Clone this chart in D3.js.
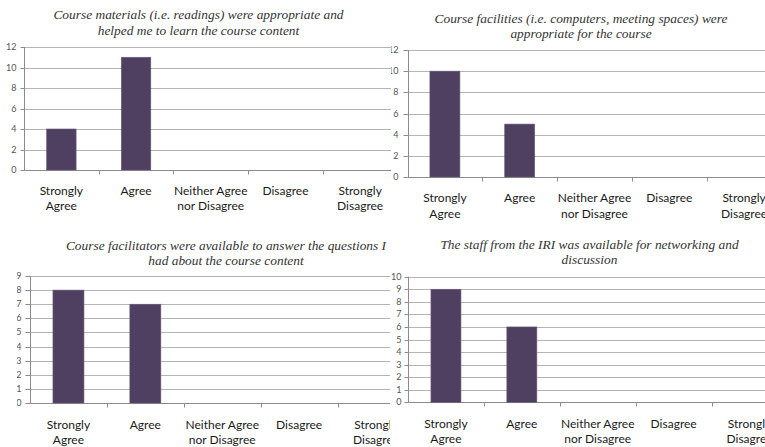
<!DOCTYPE html>
<html><head><meta charset="utf-8">
<script src="https://cdn.jsdelivr.net/npm/d3@7"></script>
<style>html,body{margin:0;padding:0;background:#fff;overflow:hidden}</style>
</head><body><svg id="c" width="765" height="447"></svg>
<script>
// ---- data ----
const categories = ["Strongly Agree","Agree","Neither Agree nor Disagree","Disagree","Strongly Disagree"];
const categoryLines = [["Strongly","Agree"],["Agree"],["Neither Agree","nor Disagree"],["Disagree"],["Strongly","Disagree"]];
const titleMaterials = ["Course materials (i.e. readings) were appropriate and","helped me to learn the course content"];
const titleFacilities = ["Course facilities (i.e. computers, meeting spaces) were","appropriate for the course"];
const titleFacilitators = ["Course facilitators were available to answer the questions I","had about the course content"];
const titleStaff = ["The staff from the IRI was available for networking and","discussion"];
const valuesMaterials = [4, 11, 0, 0, 0];
const valuesFacilities = [10, 5, 0, 0, 0];
const valuesFacilitators = [8, 7, 0, 0, 0];
const valuesStaff = [9, 6, 0, 0, 0];
const ticksMaterials = [0, 2, 4, 6, 8, 10, 12];
const ticksFacilities = [0, 2, 4, 6, 8, 10, 12];
const ticksFacilitators = [0, 1, 2, 3, 4, 5, 6, 7, 8, 9];
const ticksStaff = [0, 1, 2, 3, 4, 5, 6, 7, 8, 9, 10];

// ---- layout ----
const panels = [
  {title: titleMaterials, values: valuesMaterials, ticks: ticksMaterials,
   clip: [0, 0, 391, 224], ax: 24, band: 74.7, y0: 170, yTop: 47, barW: 29.5,
   tx: 198.5, tb: [19, 35], lb: [195, 210], tickLen: 4, labGap: 8},
  {title: titleFacilities, values: valuesFacilities, ticks: ticksFacilities,
   clip: [391, 0, 765, 224], ax: 407.5, band: 74.8, y0: 177, yTop: 50, barW: 30,
   tx: 581, tb: [22.5, 38], lb: [201.5, 218], tickLen: 5, labGap: 10},
  {title: titleFacilitators, values: valuesFacilitators, ticks: ticksFacilitators,
   clip: [17, 224, 390, 447], ax: 30, band: 76.9, y0: 403, yTop: 276, barW: 31,
   tx: 226, tb: [250, 265], lb: [429, 444], tickLen: 5, labGap: 9},
  {title: titleStaff, values: valuesStaff, ticks: ticksStaff,
   clip: [390, 224, 765, 447], ax: 408, band: 75.9, y0: 402.3, yTop: 276.7, barW: 30,
   tx: 589.5, tb: [249, 264], lb: [428, 443], tickLen: 4, labGap: 7}
];

const svg = d3.select("#c");
const defs = svg.append("defs");

panels.forEach((p, i) => {
  const [cx0, cy0, cx1, cy1] = p.clip;
  defs.append("clipPath").attr("id", "clip" + i)
    .append("rect").attr("x", cx0).attr("y", cy0).attr("width", cx1 - cx0).attr("height", cy1 - cy0);
  const g = svg.append("g").attr("clip-path", `url(#clip${i})`);
  g.append("rect").attr("x", cx0).attr("y", cy0).attr("width", cx1 - cx0).attr("height", cy1 - cy0).attr("fill", "#fff");

  const pad = 1 - p.barW / p.band;
  const x = d3.scaleBand().domain(categories)
    .range([p.ax, p.ax + p.band * categories.length])
    .paddingInner(pad).paddingOuter(pad / 2);
  const step = x.step();
  const yMax = d3.max(p.ticks);
  const y = d3.scaleLinear().domain([0, yMax]).range([p.y0, p.yTop]);
  const xEnd = p.ax + step * categories.length;

  // gridlines
  g.append("g").selectAll("line").data(p.ticks.filter(t => t > 0)).join("line")
    .attr("x1", p.ax).attr("x2", xEnd)
    .attr("y1", d => Math.round(y(d)) + 0.5).attr("y2", d => Math.round(y(d)) + 0.5)
    .attr("stroke", "#b4b4b4").attr("stroke-width", 1);

  // y axis
  const yAxis = d3.axisLeft(y).tickValues(p.ticks).tickSize(p.tickLen)
    .tickPadding(p.labGap - p.tickLen).tickFormat(d3.format("d"));
  const ya = g.append("g").attr("transform", `translate(${Math.round(p.ax) + 0.5},0)`).call(yAxis);
  ya.select(".domain").attr("stroke", "#8c8c8c").attr("d", `M0,${y(yMax)}V${Math.round(p.y0) + 0.5}`);
  ya.selectAll(".tick line").attr("stroke", "#8c8c8c");
  ya.selectAll(".tick").attr("transform", d => `translate(0,${Math.round(y(d)) + 0.5})`);
  ya.selectAll(".tick text").attr("fill", "#555").attr("font-family", "Lato, 'Open Sans', sans-serif")
    .attr("font-size", 9);

  // x axis
  const xa = g.append("g");
  xa.append("line").attr("x1", p.ax).attr("x2", xEnd)
    .attr("y1", Math.round(p.y0) + 0.5).attr("y2", Math.round(p.y0) + 0.5)
    .attr("stroke", "#8c8c8c");
  xa.selectAll("line.tk").data(categories.map((c, k) => k + 1)).join("line").attr("class", "tk")
    .attr("x1", k => Math.round(p.ax + k * step) + 0.5).attr("x2", k => Math.round(p.ax + k * step) + 0.5)
    .attr("y1", Math.round(p.y0)).attr("y2", Math.round(p.y0) + 4.5)
    .attr("stroke", "#8c8c8c");

  // bars
  g.append("g").selectAll("rect").data(p.values.map((v, k) => ({c: categories[k], v}))).join("rect")
    .filter(d => d.v > 0)
    .attr("x", d => x(d.c)).attr("width", x.bandwidth())
    .attr("y", d => y(d.v)).attr("height", d => y(0) - y(d.v))
    .attr("fill", "#4f3f60").attr("stroke", "#6b5d7b").attr("stroke-width", 0.6);

  // category labels
  const lab = g.append("g").attr("font-family", "Lato, 'Open Sans', sans-serif").attr("font-size", 12)
    .attr("fill", "#1a1a1a").attr("text-anchor", "middle");
  categories.forEach((c, k) => {
    categoryLines[k].forEach((line, li) => {
      lab.append("text").attr("x", x(c) + x.bandwidth() / 2).attr("y", p.lb[li]).text(line);
    });
  });

  // title
  const tt = g.append("g").attr("font-family", "'Liberation Serif', serif").attr("font-style", "italic")
    .attr("font-size", 13.4).attr("fill", "#333").attr("text-anchor", "middle");
  p.title.forEach((line, li) => tt.append("text").attr("x", p.tx).attr("y", p.tb[li]).text(line));
});
</script>
</body></html>
